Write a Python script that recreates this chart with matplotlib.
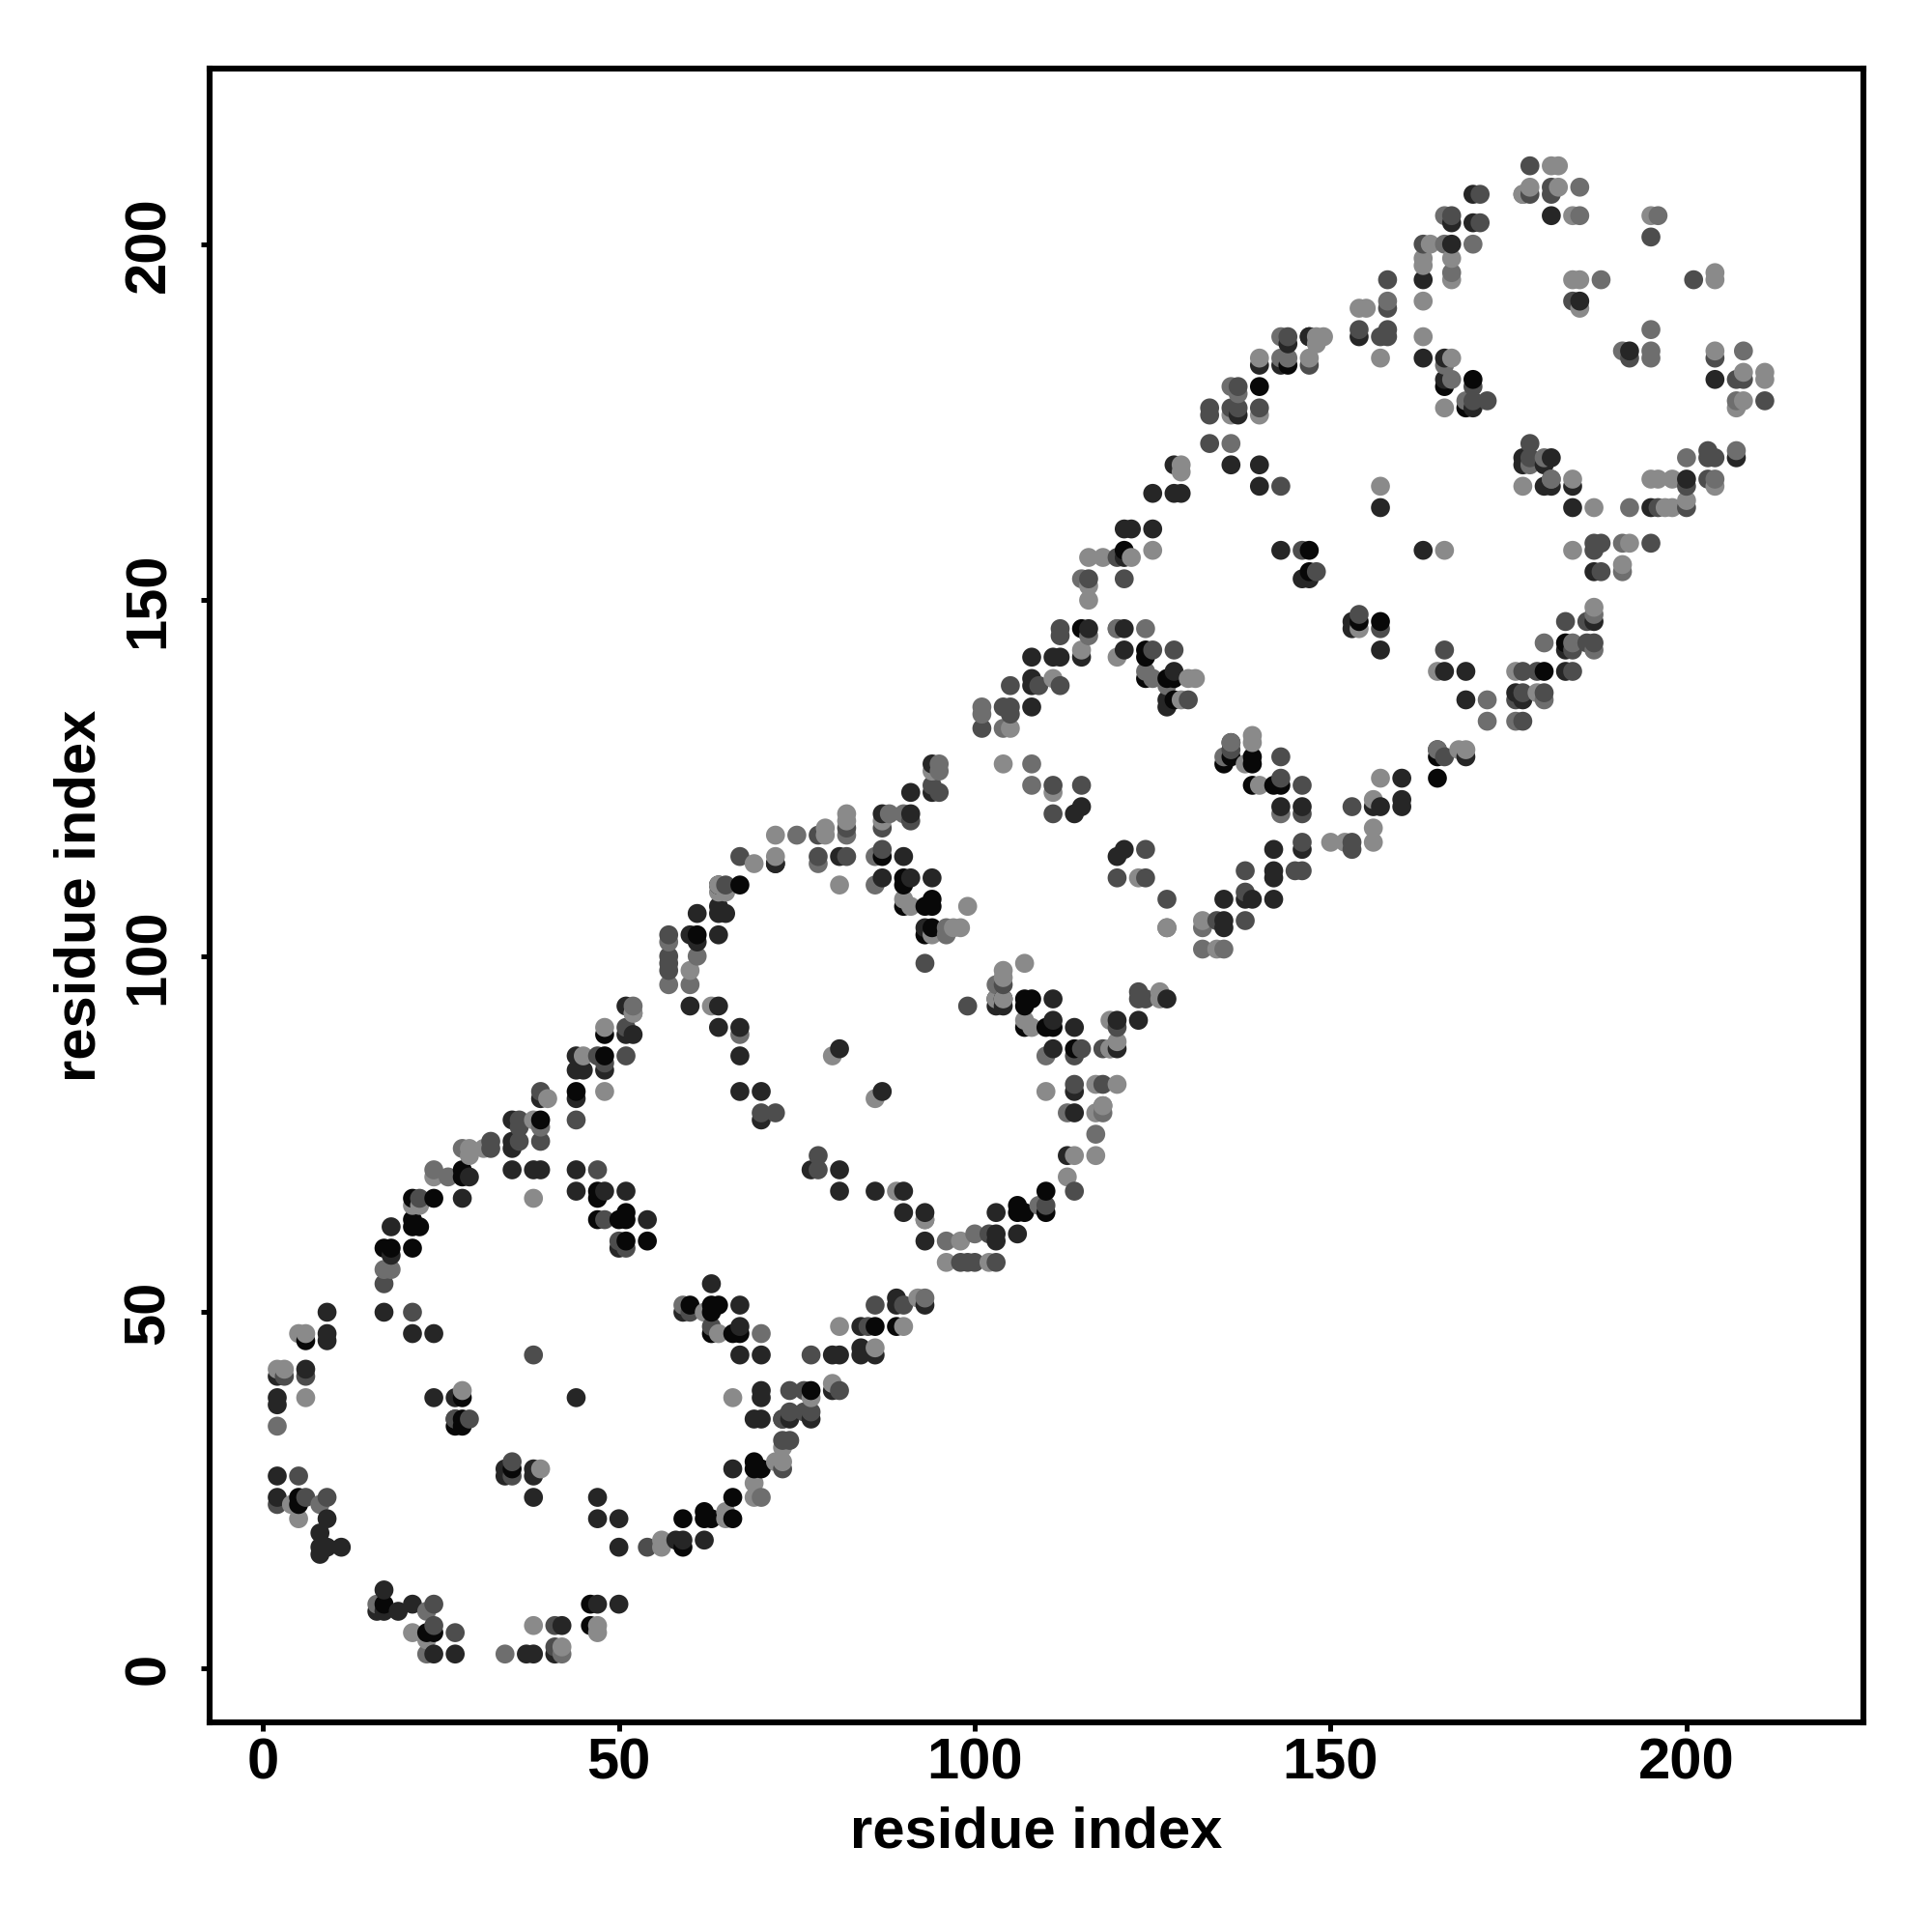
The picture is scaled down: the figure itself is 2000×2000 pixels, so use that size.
import numpy as np
import matplotlib
matplotlib.use("Agg")
import matplotlib.pyplot as plt

# contact pairs (residue i, residue j) grouped by grey level
preto = [
    (23,5),(24,5),(17,9),(46,9),(46,6),(59,21),(59,17),(62,22),(62,21),(63,21),(66,21),(66,24),
    (69,28),(70,28),(60,51),(63,51),(63,50),(64,51),(63,47),(66,47),(67,47),(28,38),(27,34),(28,34),
    (28,35),(35,28),(5,24),(5,23),(6,46),(17,59),(18,59),(21,59),(21,62),(21,63),(22,62),(21,66),
    (24,66),(28,70),(28,69),(39,77),(48,89),(48,86),(47,67),(47,66),(47,63),(50,63),(51,64),(51,63),
    (51,60),(54,60),(64,110),(67,110),(87,114),(90,111),(90,110),(90,107),(93,107),(94,108),(94,107),
    (94,104),(93,103),(61,103),(104,94),(107,94),(108,94),(107,93),(107,90),(110,90),(111,90),(114,87),
    (110,67),(110,64),(106,65),(107,64),(106,64),(86,48),(89,48),(77,39),(72,113),(140,180),(144,183),
    (147,187),(166,180),(170,181),(169,177),(147,157),(147,154),(154,147),(157,147),(183,144),(180,140),
    (121,157),(124,143),(124,142),(124,139),(127,139),(128,139),(128,136),(115,146),(136,128),(135,127),
    (139,128),(139,127),(139,124),(142,124),(143,124),(165,125),(165,128),(44,81),(69,29),
]
escuro = [
    (17,11),(16,8),(17,8),(19,8),(21,9),(24,2),(27,2),(37,2),(38,2),(42,6),(41,2),(47,9),(50,9),
    (9,50),(17,50),(21,47),(24,47),(9,47),(9,46),(2,41),(2,38),(2,37),(24,38),(27,38),(27,35),
    (34,27),(34,28),(38,28),(38,27),(38,24),(2,27),(2,24),(9,21),(8,19),(8,17),(8,16),(9,17),(11,17),
    (47,24),(47,21),(50,21),(50,17),(58,18),(59,18),(62,18),(66,28),(69,35),(70,38),(70,39),(70,35),
    (63,54),(59,50),(67,51),(67,48),(67,44),(70,44),(44,38),(6,42),(18,58),(18,62),(28,66),(29,69),
    (35,77),(35,74),(35,73),(35,70),(38,70),(39,70),(39,80),(44,80),(44,70),(44,67),(44,86),(44,84),
    (45,84),(48,84),(51,89),(52,89),(51,93),(48,67),(51,67),(54,63),(50,59),(60,93),(64,93),(64,90),
    (67,90),(67,86),(64,106),(65,106),(64,107),(61,106),(60,103),(64,103),(61,102),(72,113),(81,114),
    (90,114),(87,111),(91,111),(94,111),(93,104),(103,94),(103,93),(104,93),(111,94),(111,91),(114,90),
    (120,91),(111,87),(120,87),(114,81),(114,78),(113,72),(103,64),(106,61),(103,61),(103,60),(93,60),(93,64),
    (90,64),(90,67),(86,67),(81,67),(81,70),(77,70),(81,87),(87,81),(67,81),(70,81),(70,77),
    (89,52),(89,51),(93,51),(84,48),(80,44),(81,44),(84,45),(84,44),(86,44),(80,39),(73,35),(74,35),
    (77,35),(170,207),(167,203),(170,203),(181,204),(167,200),(163,195),(185,192),(154,187),(144,186),
    (147,187),(140,183),(143,183),(163,184),(166,184),(137,176),(166,181),(170,177),(192,185),(204,181),
    (177,170),(177,169),(181,170),(180,169),(128,169),(136,169),(140,169),(125,165),(128,165),(129,165),
    (140,166),(157,163),(180,166),(181,166),(184,166),(184,163),(195,163),(200,167),(207,170),(121,160),
    (122,160),(125,160),(121,156),(143,157),(146,153),(147,153),(163,157),(187,154),(153,147),(153,146),
    (157,143),(187,147),(183,143),(166,140),(169,140),(169,136),(176,137),(177,136),(183,140),(121,146),
    (121,143),(128,140),(127,136),(127,135),(108,142),(111,142),(112,142),(115,142),(108,139),(108,138),
    (108,135),(116,146),(114,120),(115,121),(121,115),(120,114),(135,108),(135,105),(135,104),(138,108),
    (139,108),(142,108),(142,112),(142,111),(142,115),(146,115),(143,121),(146,121),(157,121),(156,121),
    (160,122),(160,121),(160,125),(165,129),(169,128),(136,130),(127,94),(123,91),
    (91,123),(94,123),(87,120),(91,120),(94,127),
]
medio = [
    (24,9),(24,6),(27,5),(41,6),(41,3),(21,50),(38,44),(6,41),(3,41),(5,27),(2,23),(6,24),(9,24),
    (29,35),(27,35),(35,29),(35,27),(54,17),(73,35),(63,48),(60,50),(17,54),(22,66),(36,77),(36,76),
    (36,74),(32,74),(32,73),(39,74),(39,81),(44,77),(47,70),(47,86),(51,86),(51,90),(48,85),(48,63),
    (50,60),(51,59),(57,103),(57,100),(57,99),(57,98),(67,114),(78,114),(82,114),(87,115),(65,110),
    (82,118),(78,117),(87,118),(91,119),(93,99),(99,93),(104,96),(114,86),(114,82),(115,87),(118,87),(118,82),
    (114,67),(110,65),(102,61),(98,57),(99,57),(100,57),(103,57),(78,70),(78,72),(70,78),(72,78),
    (86,51),(90,51),(85,48),(77,44),(74,39),(76,39),(81,39),(74,36),(76,36),(77,36),(73,32),(74,32),
    (73,28),(178,211),(178,207),(181,208),(181,207),(167,204),(171,203),(171,207),(195,201),(163,200),(158,195),
    (184,192),(201,195),(158,191),(154,188),(157,187),(158,188),(158,187),(144,187),(147,183),(137,180),
    (133,177),(133,176),(136,177),(137,177),(140,177),(170,180),(172,178),(170,178),(192,184),(204,184),
    (207,181),(208,181),(211,178),(133,172),(178,172),(178,170),(203,171),(203,170),(204,170),(143,166),
    (196,163),(200,163),(200,166),(203,167),(120,156),(121,153),(146,157),(148,154),(187,158),(188,158),
    (187,157),(195,158),(188,154),(154,148),(157,146),(183,147),(186,147),(186,144),(187,144),(184,143),
    (166,143),(177,140),(179,140),(184,140),(177,137),(176,136),(180,137),(177,133),(125,143),(128,143),
    (130,136),(112,146),(112,145),(116,153),(105,138),(109,138),(112,138),(101,132),(104,135),(105,135),
    (105,134),(111,124),(115,124),(111,120),(124,115),(120,111),(124,111),(127,108),(134,105),(138,105),
    (138,112),(138,109),(145,112),(146,112),(146,116),(153,121),(153,116),(153,115),(146,120),(166,128),
    (136,129),(143,128),(143,125),(146,124),(123,95),(123,94),(124,94),(120,90),
    (94,124),(95,123),
]
cinza = [
    (23,8),(23,2),(34,2),(42,2),(16,9),(2,34),(17,56),(18,56),(8,23),(70,24),(70,47),(59,51),(24,70),
    (26,69),(28,73),(39,76),(101,135),(67,89),(60,96),(61,100),(57,96),(57,102),(78,113),(82,117),(75,117),
    (86,114),(86,110),(96,104),(96,103),(96,60),(100,61),(113,78),(117,75),(109,65),(52,93),(52,92),
    (103,96),(110,86),(118,78),(93,63),(93,52),(181,167),(185,208),(177,207),(166,204),(166,200),(170,200),
    (185,204),(196,204),(167,196),(188,195),(143,184),(144,184),(143,187),(136,180),(137,179),(166,183),
    (167,181),(169,178),(191,185),(195,185),(195,184),(208,185),(207,178),(207,171),(200,170),(136,172),
    (180,170),(178,169),(181,167),(204,167),(195,188),(158,192),(191,158),(191,154),(187,148),(180,144),
    (184,144),(187,143),(172,136),(180,136),(172,133),(176,133),(120,146),(127,138),(124,140),(125,139),
    (115,153),(120,146),(108,127),(108,124),(101,134),(104,132),(127,104),(132,104),(132,101),
    (135,101),(143,120),(136,130),(192,163),(118,79),(116,145),(124,146),(135,128),(165,129),
    (95,127),(95,126),(88,120),(90,120),
]
claro = [
    (21,5),(23,4),(38,6),(42,3),(47,6),(47,5),(6,38),(5,47),(6,47),(2,42),(3,42),(4,23),(5,21),(28,39),
    (39,28),(66,38),(65,22),(65,21),(56,18),(56,17),(69,24),(69,26),(62,50),(64,47),(21,65),(22,65),(24,69),
    (29,73),(29,72),(31,73),(38,77),(38,66),(40,80),(45,86),(48,90),(48,81),(52,92),(60,98),(63,93),
    (69,113),(72,114),(72,117),(79,118),(79,117),(87,119),(65,109),(64,109),(81,110),(90,108),(91,107),
    (99,107),(97,104),(98,104),(94,103),(107,99),(104,98),(104,97),(104,94),(103,94),(108,90),(119,91),
    (119,87),(120,88),(110,81),(117,82),(120,82),(117,78),(118,79),(117,72),(114,72),(113,69),(98,60),
    (89,67),(96,57),(102,57),(93,63),(80,86),(86,80),(81,48),(90,48),(86,45),(80,40),(77,38),(92,52),
    (73,31),(73,29),(72,29),(181,211),(182,211),(178,208),(182,208),(177,207),(184,204),(195,204),(164,200),
    (163,198),(167,198),(163,197),(167,195),(184,195),(185,195),(204,196),(204,195),(185,191),(163,192),
    (154,191),(155,191),(163,187),(148,187),(149,187),(148,186),(140,184),(147,184),(157,184),(167,184),
    (136,176),(140,176),(204,185),(208,182),(211,182),(211,181),(208,178),(207,177),(166,177),(129,169),
    (129,168),(157,166),(177,166),(184,167),(187,163),(197,163),(198,163),(200,164),(195,167),(196,167),
    (198,167),(204,166),(122,156),(125,157),(184,157),(166,157),(192,158),(191,155),(154,146),(187,149),
    (165,140),(176,140),(179,137),(120,142),(130,139),(131,139),(129,136),(116,156),(118,156),(116,152),
    (116,150),(115,143),(111,139),(111,123),(104,127),(105,132),(123,111),(127,104),(132,105),(134,101),(150,116),
    (152,116),(156,118),(156,116),(156,122),(157,125),(168,129),(169,129),(139,131),(139,130),(138,127),
    (140,124),(126,95),(126,94),(119,87),(107,91),(64,110),
    (94,126),(82,120),(82,119),
]
niveis = [(preto, "#080808"), (escuro, "#262626"), (medio, "#4d4d4d"), (cinza, "#6e6e6e"), (claro, "#8a8a8a")]

marcas_x = [0, 50, 100, 150, 200]

# junta tudo e desenha na ordem (x, y), os pontos seguintes ficam por cima
xs, ys, cores = [], [], []
for pontos, cor in niveis:
    for x, y in pontos:
        xs.append(x)
        ys.append(y)
        cores.append(cor)
xs = np.array(xs)
ys = np.array(ys)
ordem = np.lexsort((ys, xs))

plt.rcParams["font.family"] = ["Liberation Sans", "DejaVu Sans"]
plt.rcParams["font.weight"] = "bold"

fig = plt.figure(figsize=(10, 10), dpi=200)
ax = fig.add_axes([0.1085, 0.1085, 0.8558, 0.8558])
ax.scatter(xs[ordem], ys[ordem], s=50, c=[cores[i] for i in ordem], linewidths=0, clip_on=False)

ax.set_xlim(-7.5, 224.8)
ax.set_ylim(-7.6, 224.6)
ax.set_xticks(marcas_x)
ax.set_yticks(marcas_x)
ax.tick_params(axis="both", length=3.2, width=1.8, labelsize=21.5)
ax.tick_params(axis="x", pad=2.2)
ax.tick_params(axis="y", pad=9.4)
for lab in ax.get_yticklabels():
    lab.set_rotation(90)
    lab.set_va("center")
for lado in ax.spines.values():
    lado.set_linewidth(2.2)

ax.set_xlabel("residue index", fontsize=21.5, fontweight="bold")
ax.set_ylabel("residue index", fontsize=21.5, fontweight="bold")
ax.xaxis.set_label_coords(0.5, -0.0505)
ax.yaxis.set_label_coords(-0.0625, 0.5)

fig.savefig("out.png", dpi=200)
